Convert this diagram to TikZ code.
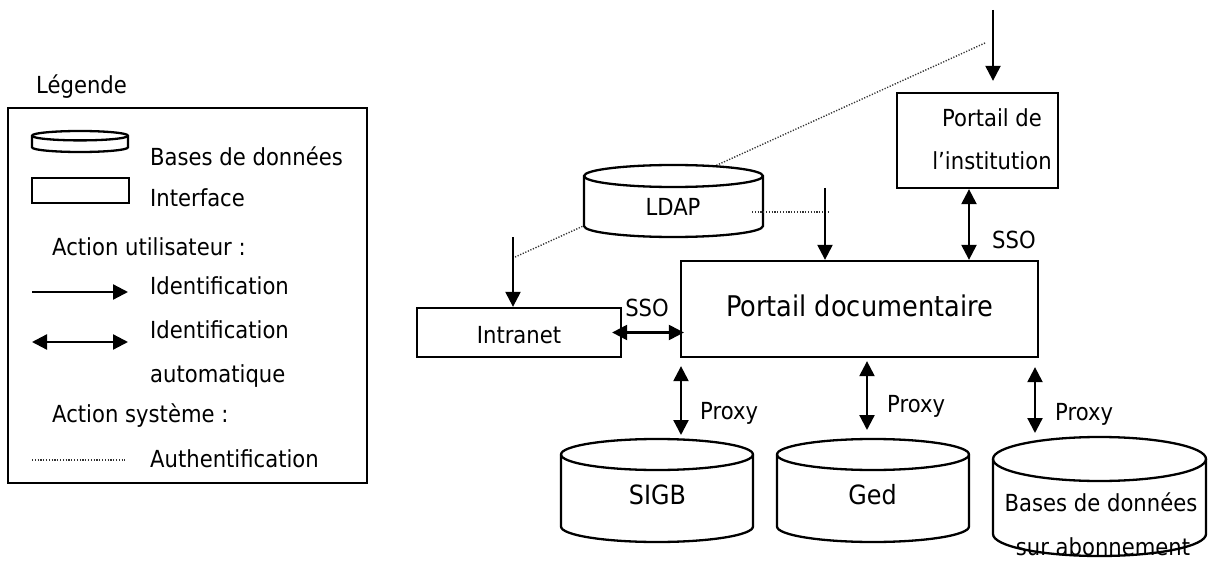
\documentclass[tikz,border=0pt]{standalone}
\usepackage{fontspec}
\setmainfont{DejaVu Sans}[FakeStretch=0.9]
\usetikzlibrary{arrows.meta}
\tikzset{
  lbl/.style={font=\fontsize{23.5}{46}\selectfont, inner sep=0pt, anchor=base},
  lblw/.style={lbl, anchor=base west},
  mid/.style={font=\fontsize{26.5}{32}\selectfont, inner sep=0pt, anchor=base},
  big/.style={font=\fontsize{28.5}{34}\selectfont, inner sep=0pt, anchor=base},
  boxs/.style={draw, line width=2.3pt, fill=white, inner sep=0pt},
  arr/.style={line width=2.3pt, -{Triangle[length=15pt,width=15pt]}},
  darr/.style={line width=2.3pt, {Triangle[length=15pt,width=15pt]}-{Triangle[length=15pt,width=15pt]}},
  auth/.style={line width=1.4pt, dash pattern=on 1.2pt off 1.6pt, black!80},
  cyl/.style={draw, line width=2.3pt, fill=white},
}
\newcommand\dbcyl[5]{%
  \pgfmathsetmacro\dbrx{(#2-#1)/2}%
  \filldraw[cyl] (#1,#3+#5) -- (#1,#4-#5)
     arc[start angle=180,end angle=360,x radius={\dbrx pt},y radius={#5 pt}]
     -- (#2,#3+#5)
     arc[start angle=0,end angle=180,x radius={\dbrx pt},y radius={#5 pt}] -- cycle;
  \draw[cyl, fill=none] (#1,#3+#5)
     arc[start angle=180,end angle=360,x radius={\dbrx pt},y radius={#5 pt}];
}
\begin{document}
\begin{tikzpicture}[x=1pt,y=-1pt]
\fill[white] (0,0) rectangle (1208,575);
\useasboundingbox (0,0) rectangle (1208,575);

% ---------- Legend ----------
\node[lblw] (legtitle) at (36,94) {Légende};
\node[boxs, fill=none, minimum width=359pt, minimum height=375pt] (legbox) at (187.5,295.5) {};
\dbcyl{32}{128}{131}{152}{4.7}
\node[lblw] (legdb) at (150,165) {Bases de données};
\node[boxs, minimum width=97pt, minimum height=25pt] (legif) at (80.5,190.5) {};
\node[lblw] (legiftxt) at (150,207) {Interface};
\node[lblw] (legua) at (52,255) {Action utilisateur :};
\coordinate (la1) at (32,292);
\coordinate (la2) at (128,292);
\draw[arr] (la1) -- (la2);
\node[lblw] (legid) at (150,294) {Identification};
\coordinate (lb1) at (32,342);
\coordinate (lb2) at (128,342);
\draw[darr] (lb1) -- (lb2);
\node[lblw] (legida) at (150,338) {Identification};
\node[lblw] (legidb) at (150,382) {automatique};
\node[lblw] (legas) at (52,422) {Action système :};
\coordinate (lc1) at (32,460);
\coordinate (lc2) at (125,460);
\draw[auth] (lc1) -- (lc2);
\node[lblw] (legauth) at (150,467) {Authentification};

% ---------- Authentication (behind LDAP) ----------
\coordinate (authA) at (985,43);
\coordinate (authB) at (513,258);
\draw[auth] (authA) -- (authB);

% ---------- LDAP ----------
\dbcyl{584}{763}{165}{237}{11}
\node[lbl] (ldap) at (673,215) {LDAP};
\coordinate (authC) at (752,212);
\coordinate (authD) at (830,212);
\draw[auth] (authC) -- (authD);

% ---------- Boxes ----------
\node[boxs, minimum width=161pt, minimum height=95pt] (inst) at (977.5,140.5) {};
\node[lbl] (insta) at (992,127) {Portail de};
\node[lbl] (instb) at (992,170) {l’institution};

\node[boxs, minimum width=357pt, minimum height=96pt] (doc) at (859.5,309) {};
\node[big] (doctxt) at (859.5,316) {Portail documentaire};

\node[boxs, minimum width=204pt, minimum height=49pt] (intra) at (519,332.5) {};
\node[lbl] (intratxt) at (519,343) {Intranet};

% ---------- Databases ----------
\dbcyl{561}{753}{439}{542}{15.5}
\node[mid] (sigb) at (657.5,504) {SIGB};
\coordinate (sigbtop) at (657,439);
\dbcyl{777}{969}{439}{542}{15.5}
\node[mid] (ged) at (872.5,504) {Ged};
\coordinate (gedtop) at (873,439);
\dbcyl{993}{1206}{437}{556}{22}
\node[lbl] (basesa) at (1101,511) {Bases de données};
\node[lbl] (basesb) at (1103,555) {sur abonnement};
\coordinate (basestop) at (1100,437);

% ---------- User arrows ----------
\coordinate (topin) at (993,10);
\draw[arr, shorten >=11pt] (topin) -- (topin |- inst.north);
\coordinate (ldapin) at (825,188);
\draw[arr] (ldapin) -- (ldapin |- doc.north);
\coordinate (intrain) at (513,237);
\draw[arr] (intrain) -- (intrain |- intra.north);

% ---------- SSO ----------
\coordinate (ssox) at (969,0);
\draw[darr] (inst.south -| ssox) -- (doc.north -| ssox);
\node[lblw] (sso1) at (992,248) {SSO};
\draw[darr, shorten <=-10pt, shorten >=-4pt] (intra.east) -- (intra.east -| doc.west);
\node[lbl] (sso2) at (647,316) {SSO};

% ---------- Proxy ----------
\coordinate (px1) at (681,0);
\coordinate (px2) at (867,0);
\coordinate (px3) at (1035,0);
\draw[darr, shorten <=8pt, shorten >=4pt] (doc.south -| px1) -- (sigbtop -| px1);
\draw[darr, shorten <=3pt, shorten >=9pt] (doc.south -| px2) -- (gedtop -| px2);
\draw[darr, shorten <=9pt, shorten >=4pt] (doc.south -| px3) -- (basestop -| px3);
\node[lblw] (prx1) at (700,419) {Proxy};
\node[lblw] (prx2) at (887,412) {Proxy};
\node[lblw] (prx3) at (1055,420) {Proxy};
\end{tikzpicture}
\end{document}
